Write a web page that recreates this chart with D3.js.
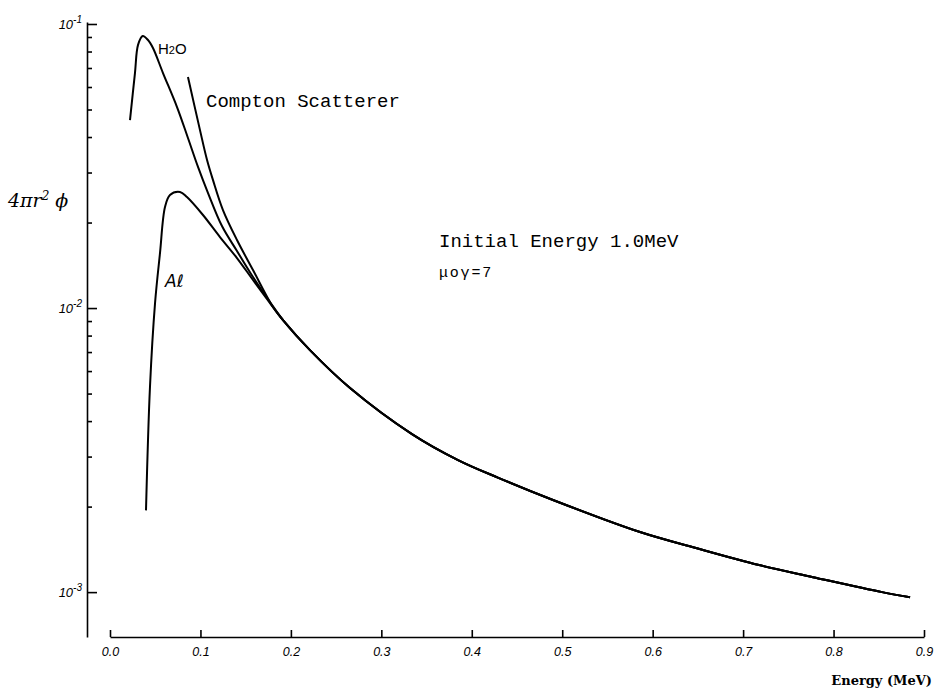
<!DOCTYPE html>
<html>
<head>
<meta charset="utf-8">
<script src="https://cdn.jsdelivr.net/npm/d3@7/dist/d3.min.js"></script>
<style>
  body { margin: 0; background: #fff; }
  .eje path, .eje line { stroke: #000; stroke-width: 1.6px; }
  .eje text { font-family: 'Liberation Sans', sans-serif; font-style: italic; font-size: 12.5px; fill: #000; }
</style>
</head>
<body>
<div id="graf"></div>
<script>
// I. Datos
energiaH2O = [0.0221, 0.0276, 0.0310, 0.0362, 0.0420, 0.0475, 0.0586, 0.0741, 0.0862, 0.0973, 0.1084, 0.1238, 0.1404, 0.1581, 0.1769]
flujoH2O   = [0.0459, 0.0672, 0.0844, 0.0907, 0.0878, 0.0823, 0.0672, 0.0510, 0.0397, 0.0314, 0.0254, 0.01944, 0.01588, 0.01286, 0.0105]

energiaAl = [0.0398, 0.0442, 0.0498, 0.0553, 0.0608, 0.0663, 0.0774, 0.0851, 0.1028, 0.1216, 0.1404, 0.1581, 0.1769]
flujoAl   = [0.00194, 0.00527, 0.01041, 0.01563, 0.02268, 0.0250, 0.02562, 0.02459, 0.02126, 0.01778, 0.0150, 0.01255, 0.01041]

energiaCompton = [0.0862, 0.0995, 0.1073, 0.1139, 0.1249, 0.1404, 0.1581, 0.1802]
flujoCompton   = [0.0651, 0.0423, 0.0332, 0.0282, 0.02213, 0.01736, 0.01361, 0.01008]

// cola común a las tres curvas
energiaCola = [0.1913, 0.2211, 0.2654, 0.3339, 0.3848, 0.4301, 0.4898, 0.5860, 0.6479, 0.7176, 0.7773, 0.8536, 0.8846]
flujoCola   = [0.00907, 0.00711, 0.00523, 0.00360, 0.002916, 0.00252, 0.00211, 0.001627, 0.001429, 0.001245, 0.001129, 0.00100, 0.00096]

xTicks = [0.0, 0.1, 0.2, 0.3, 0.4, 0.5, 0.6, 0.7, 0.8, 0.9]
yMayores = [1e-3, 1e-2, 1e-1]
yExponentes = ['-3', '-2', '-1']
yMenores = [2, 3, 4, 5, 6, 7, 8, 9].map(d => d * 1e-3)
             .concat([2, 3, 4, 5, 6, 7, 8, 9].map(d => d * 1e-2))

// II. Configuración
ancho_total = 934
alto_total = 689

svg = d3.select('#graf').append('svg')
        .attr('width', ancho_total)
        .attr('height', alto_total)

x = d3.scaleLinear()
      .domain([0, 0.9])
      .range([110, 924])
y = d3.scaleLog()
      .domain([Math.pow(10, -3.158), Math.pow(10, -0.993)])
      .range([637, 22])

// III. Ejes
ejeY = svg.append('g')
          .attr('class', 'eje')
          .attr('transform', 'translate(87, 0)')

ejeY.append('g')
    .call(d3.axisRight(y).tickValues(yMenores).tickSize(5).tickSizeOuter(0).tickFormat(''))
ejeY.append('g')
    .call(d3.axisRight(y).tickValues(yMayores).tickSize(10).tickSizeOuter(0).tickFormat(''))
    .select('.domain').remove()

etiquetasY = svg.append('g')
                .style('font-family', "'Liberation Sans', sans-serif")
                .style('font-style', 'italic')
                .selectAll('text')
                .data(yMayores)
                .enter()
                .append('text')
                  .attr('x', 82)
                  .attr('y', d => y(d) + 5)
                  .attr('text-anchor', 'end')
                  .style('font-size', '13px')
etiquetasY.append('tspan').text('10')
etiquetasY.append('tspan')
          .attr('dy', -6)
          .style('font-size', '10px')
          .text((d, i) => yExponentes[i])

ejeX = svg.append('g')
          .attr('class', 'eje')
          .attr('transform', 'translate(0, 637)')
          .call(d3.axisBottom(x)
                  .tickValues(xTicks)
                  .tickSizeInner(-7)
                  .tickSizeOuter(0)
                  .tickPadding(10)
                  .tickFormat(d3.format('.1f')))

// títulos de ejes
tituloY = svg.append('text')
             .attr('x', 8)
             .attr('y', 207)
             .style('font-family', "'DejaVu Serif', serif")
             .style('font-style', 'italic')
             .style('font-size', '19px')
tituloY.append('tspan').text('4πr')
tituloY.append('tspan').attr('dy', -7).style('font-size', '12px').text('2')
tituloY.append('tspan').attr('dy', 7).text(' ϕ')

svg.append('text')
   .attr('x', 932)
   .attr('y', 685)
   .attr('text-anchor', 'end')
   .style('font-family', "'DejaVu Serif', serif")
   .style('font-weight', 'bold')
   .style('font-size', '13px')
   .text('Energy (MeV)')

// IV. Curvas
linea = d3.line()
          .x(d => x(d[0]))
          .y(d => y(d[1]))
          .curve(d3.curveCatmullRom.alpha(0.5))

cola = d3.zip(energiaCola, flujoCola)
series = [
  d3.zip(energiaH2O, flujoH2O).concat(cola),
  d3.zip(energiaAl, flujoAl).concat(cola),
  d3.zip(energiaCompton, flujoCompton).concat(cola)
]

svg.append('g')
   .selectAll('path')
   .data(series)
   .enter()
   .append('path')
     .attr('d', linea)
     .style('fill', 'none')
     .style('stroke', '#000')
     .style('stroke-width', 2)

// V. Anotaciones
h2o = svg.append('text')
         .attr('x', 158)
         .attr('y', 54)
         .style('font-family', "'Liberation Sans', sans-serif")
         .style('font-size', '15px')
h2o.append('tspan').text('H')
h2o.append('tspan').style('font-size', '11px').text('2')
h2o.append('tspan').text('O')

svg.append('text')
   .attr('x', 165)
   .attr('y', 287)
   .style('font-family', "'DejaVu Sans', sans-serif")
   .style('font-style', 'italic')
   .style('font-size', '17px')
   .text('Aℓ')

svg.append('text')
   .attr('x', 206)
   .attr('y', 107)
   .style('font-family', "'Liberation Mono', monospace")
   .style('font-size', '19px')
   .text('Compton Scatterer')

svg.append('text')
   .attr('x', 439)
   .attr('y', 247)
   .style('font-family', "'Liberation Mono', monospace")
   .style('font-size', '19px')
   .text('Initial Energy 1.0MeV')

svg.append('text')
   .attr('x', 439)
   .attr('y', 277)
   .style('font-family', "'Liberation Mono', monospace")
   .style('font-size', '15px')
   .style('letter-spacing', '1.8px')
   .text('μoγ=7')
</script>
</body>
</html>
